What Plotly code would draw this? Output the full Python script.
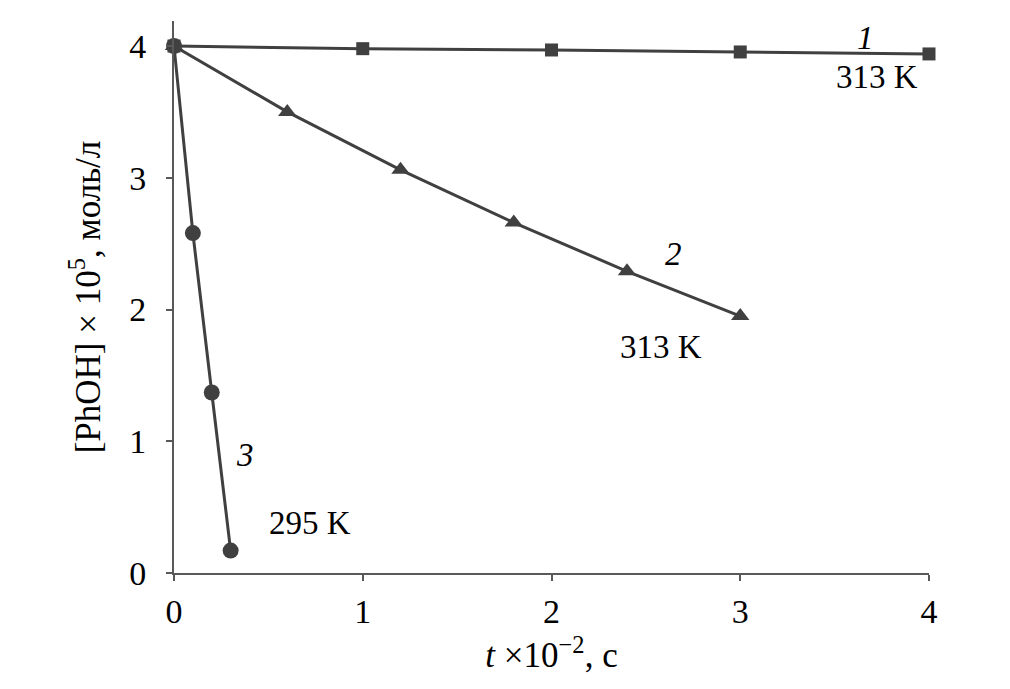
import plotly.graph_objects as go

t1 = [0, 1, 2, 3, 4]
c1 = [4.0, 3.98, 3.97, 3.955, 3.94]
t2 = [0, 0.6, 1.2, 1.8, 2.4, 3.0]
c2 = [4.0, 3.5, 3.06, 2.66, 2.29, 1.95]
t3 = [0, 0.1, 0.2, 0.3]
c3 = [4.0, 2.58, 1.37, 0.17]

labels = [
    ("313 K", 3.725, 3.764),
    ("<i>2</i>", 2.644, 2.418), ("313 K", 2.58, 1.719),
    ("<i>3</i>", 0.376, 0.897), ("295 K", 0.72, 0.38),
]

col = "#404040"
serif = "Liberation Serif"
fig = go.Figure()
fig.add_trace(go.Scatter(x=t1, y=c1, mode="lines+markers",
                         line=dict(color=col, width=3),
                         marker=dict(symbol="square", size=13, color=col),
                         cliponaxis=False))
fig.add_trace(go.Scatter(x=t2, y=c2, mode="lines+markers",
                         line=dict(color=col, width=3),
                         marker=dict(symbol="triangle-up", size=16, color=col),
                         cliponaxis=False))
fig.add_trace(go.Scatter(x=t3, y=c3, mode="lines+markers",
                         line=dict(color=col, width=3),
                         marker=dict(symbol="circle", size=16, color=col),
                         cliponaxis=False))

for txt, x, y in labels:
    fig.add_annotation(x=x, y=y, text=txt, showarrow=False,
                       font=dict(family=serif, size=33, color="black"))
fig.add_annotation(x=3.666, xref="x", y=1.005, yref="paper", text="<i>1</i>",
                   showarrow=False, font=dict(family=serif, size=33, color="black"))

axis_common = dict(showgrid=False, zeroline=False, showline=True,
                   linecolor="#595959", linewidth=2, ticks="outside",
                   ticklen=6, tickwidth=2, tickcolor="#595959",
                   automargin=False,
                   tickfont=dict(family=serif, size=34, color="black"))

fig.update_xaxes(range=[0, 4], tickvals=[0, 1, 2, 3, 4], ticklabelstandoff=1,
                 title=dict(text="<i>t</i> ×10<sup>−2</sup>, с",
                            font=dict(family=serif, size=35, color="black"),
                            standoff=14),
                 **axis_common)
fig.update_yaxes(range=[0, 4.19], tickvals=[0, 1, 2, 3, 4], ticklabelstandoff=13,
                 title=dict(text="[PhOH] × 10<sup>5</sup>, моль/л",
                            font=dict(family=serif, size=35, color="black"),
                            standoff=18),
                 **axis_common)

fig.update_layout(width=1010, height=689, showlegend=False,
                  plot_bgcolor="white", paper_bgcolor="white",
                  margin=dict(l=166, r=89, t=13, b=124))

fig.write_html("out.html")
